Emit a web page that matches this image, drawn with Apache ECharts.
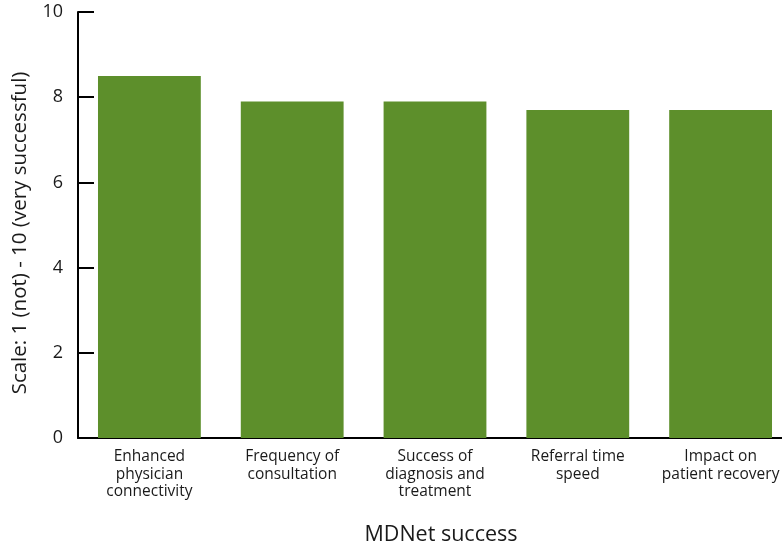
<!DOCTYPE html>
<html><head><meta charset="utf-8">
<script src="https://cdn.jsdelivr.net/npm/echarts@6/dist/echarts.min.js"></script>
<style>html,body{margin:0;padding:0;background:#fff;overflow:hidden;width:782px;height:544px}#c{width:792px;height:544px}</style>
</head><body><div id="c"></div>
<script>
const categories = ["Enhanced\nphysician\nconnectivity","Frequency of\nconsultation","Success of\ndiagnosis and\ntreatment","Referral time\nspeed","Impact on\npatient recovery"];
const values = [8.5, 7.9, 7.9, 7.7, 7.7];
const yTicks = [0, 2, 4, 6, 8, 10];
const chart = echarts.init(document.getElementById('c'));
const font = '"Open Sans", "Noto Sans", sans-serif';
chart.setOption({
  animation: false,
  grid: {left: 78, right: 0, top: 12, bottom: 106, containLabel: false, outerBoundsMode: 'none'},
  xAxis: {
    type: 'category', data: categories,
    axisLine: {lineStyle: {color: '#000', width: 2}},
    axisTick: {show: false},
    axisLabel: {color: '#1a1a1a', fontFamily: font, fontSize: 15.5, lineHeight: 17.5, margin: 10, interval: 0},
    name: 'MDNet success', nameLocation: 'middle', nameGap: 86,
    nameTextStyle: {color: '#1a1a1a', fontFamily: font, fontSize: 21.5, padding: [0,0,0,12]}
  },
  yAxis: {
    type: 'value', min: yTicks[0], max: yTicks[yTicks.length-1], interval: 2,
    splitLine: {show: false},
    axisLine: {show: true, lineStyle: {color: '#000', width: 2}},
    axisTick: {show: true, inside: true, length: 16, lineStyle: {color: '#000', width: 2}},
    axisLabel: {color: '#1a1a1a', fontFamily: font, fontSize: 18, margin: 15},
    name: 'Scale: 1 (not) - 10 (very successful)', nameLocation: 'middle', nameGap: 47,
    nameTextStyle: {color: '#1a1a1a', fontFamily: font, fontSize: 20.5, padding: [0,16,0,0]}
  },
  series: [{type: 'bar', data: values, barWidth: '72%', itemStyle: {color: '#5d8f2b'}}]
});
</script></body></html>
